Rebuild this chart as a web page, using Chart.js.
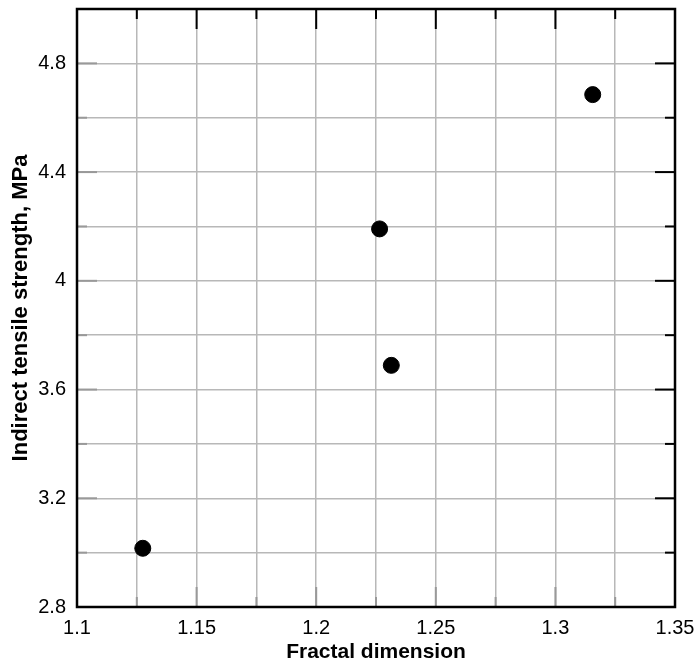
<!DOCTYPE html>
<html>
<head>
<meta charset="utf-8">
<script src="https://cdn.jsdelivr.net/npm/chart.js@4/dist/chart.umd.min.js"></script>
<style>
  body { margin: 0; background: #fff; }
  #wrap { width: 700px; height: 668px; }
</style>
</head>
<body>
<div id="wrap"><canvas id="chart" width="700" height="668"></canvas></div>
<script>
// fractal dimension vs indirect tensile strength
let fractalDim = [1.1275, 1.2265, 1.2314, 1.3156];
let tensileStrength = [3.016, 4.191, 3.689, 4.685];

let xTickLabels = ['1.1', '1.15', '1.2', '1.25', '1.3', '1.35'];
let yTickLabels = ['2.8', '3.2', '3.6', '4', '4.4', '4.8'];

let xTitle = 'Fractal dimension';
let yTitle = 'Indirect tensile strength, MPa';

let fontFam = '"Liberation Sans", Arial, sans-serif';

// frame + inner tick marks (major every 2nd grid line)
const frameTicks = {
  id: 'frameTicks',
  afterDatasetsDraw(chart) {
    const { ctx, chartArea: a, scales } = chart;
    ctx.save();
    ctx.lineWidth = 2;
    scales.x.ticks.forEach((t, i) => {
      const px = scales.x.getPixelForValue(t.value);
      const len = i % 2 === 0 ? 20 : 10;
      ctx.strokeStyle = '#000';
      ctx.beginPath(); ctx.moveTo(px, a.top); ctx.lineTo(px, a.top + len); ctx.stroke();
      ctx.strokeStyle = '#999';
      ctx.beginPath(); ctx.moveTo(px, a.bottom); ctx.lineTo(px, a.bottom - len); ctx.stroke();
    });
    scales.y.ticks.forEach((t, i) => {
      const py = scales.y.getPixelForValue(t.value);
      const len = i % 2 === 0 ? 20 : 10;
      ctx.strokeStyle = '#000';
      ctx.beginPath(); ctx.moveTo(a.right, py); ctx.lineTo(a.right - len, py); ctx.stroke();
      ctx.strokeStyle = '#999';
      ctx.beginPath(); ctx.moveTo(a.left, py); ctx.lineTo(a.left + len, py); ctx.stroke();
    });
    ctx.strokeStyle = '#000';
    ctx.lineWidth = 2.5;
    ctx.strokeRect(a.left, a.top, a.right - a.left, a.bottom - a.top);
    ctx.restore();
  }
};

var ctx = document.getElementById('chart').getContext('2d');
var chart = new Chart(ctx, {
  type: 'scatter',
  data: {
    datasets: [{
      data: fractalDim.map((x, i) => ({ x: x, y: tensileStrength[i] })),
      backgroundColor: '#000',
      borderColor: '#000',
      pointRadius: 8,
      pointHoverRadius: 8
    }]
  },
  options: {
    responsive: false,
    animation: false,
    layout: { padding: { left: 0, top: 8, right: 25, bottom: 0 } },
    plugins: { legend: { display: false }, tooltip: { enabled: false } },
    scales: {
      x: {
        type: 'linear',
        min: 1.1,
        max: 1.35,
        afterFit(scale) { scale.height = 61; },
        ticks: {
          stepSize: 0.025,
          autoSkip: false,
          maxRotation: 0,
          padding: 0,
          color: '#000',
          font: { family: fontFam, size: 20 },
          callback: (v, i) => (i % 2 === 0 ? xTickLabels[i / 2] : '')
        },
        grid: { color: '#b8b8b8', lineWidth: 1.5, drawTicks: true, tickLength: 9, tickColor: 'rgba(0,0,0,0)' },
        border: { display: false },
        title: {
          display: true,
          text: xTitle,
          color: '#000',
          font: { family: fontFam, size: 21, weight: 'bold' },
          padding: { top: 3, bottom: 3 }
        }
      },
      y: {
        type: 'linear',
        min: 2.8,
        max: 5.0,
        afterFit(scale) { scale.width = 77; },
        ticks: {
          stepSize: 0.2,
          autoSkip: false,
          padding: 0,
          color: '#000',
          font: { family: fontFam, size: 20, lineHeight: 0.8 },
          callback: (v, i) => (i % 2 === 0 ? yTickLabels[i / 2] : '')
        },
        grid: { color: '#b8b8b8', lineWidth: 1.5, drawTicks: true, tickLength: 11, tickColor: 'rgba(0,0,0,0)' },
        border: { display: false },
        title: {
          display: true,
          text: yTitle,
          color: '#000',
          font: { family: fontFam, size: 22, weight: 'bold' },
          padding: { top: 8, bottom: 8 }
        }
      }
    }
  },
  plugins: [frameTicks]
});
</script>
</body>
</html>
